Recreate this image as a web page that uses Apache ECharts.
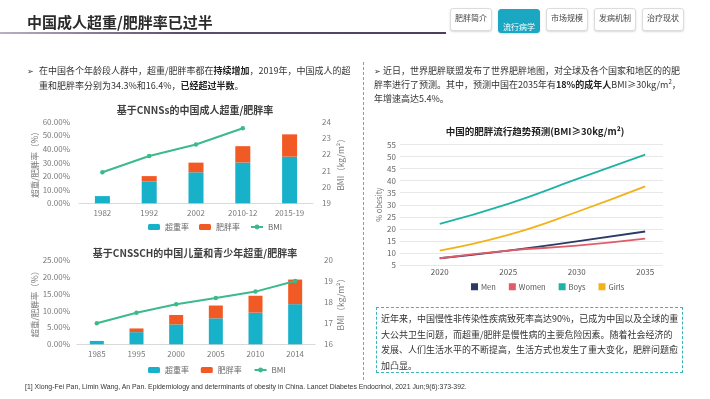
<!DOCTYPE html>
<html><head><meta charset="utf-8">
<script src="https://cdn.jsdelivr.net/npm/echarts@6/dist/echarts.min.js"></script>
<style>
html,body{margin:0;padding:0;background:#fff;}
#page{position:relative;width:710px;height:399px;overflow:hidden;font-family:"Noto Sans CJK SC","Noto Sans",sans-serif;color:#333;}
#chart{position:absolute;left:0;top:0;width:710px;height:399px;}
.abs{position:absolute;white-space:nowrap;}
.tab{position:absolute;top:8px;width:42px;height:23px;border:1px solid #dcdcdc;border-radius:3px;background:#fff;box-shadow:0 1px 2px rgba(0,0,0,0.15);font-size:8px;color:#444;text-align:center;line-height:18px;box-sizing:border-box;}
.tab.on{background:#1ba6c2;border-color:#1ba6c2;color:#fff;line-height:33px;top:9px;height:24px;}
b{font-weight:bold;color:#222;}
</style></head>
<body><div id="page">
<div id="chart"></div>
<div class="abs" style="left:27px;top:11px;font-size:15px;font-weight:bold;color:#2b2b2b;">中国成人超重/肥胖率已过半</div>
<div class="abs" style="left:0;top:32px;width:446px;height:2px;background:linear-gradient(90deg,#b9b0c3,#5d4e6e 40%,#4c3f5c);"></div>
<div class="tab" style="left:450px;">肥胖简介</div>
<div class="tab on" style="left:498px;">流行病学</div>
<div class="tab" style="left:546px;">市场规模</div>
<div class="tab" style="left:594px;">发病机制</div>
<div class="tab" style="left:642px;">治疗现状</div>
<div class="abs" style="left:363px;top:62px;height:318px;border-left:1px dashed #9a9a9a;"></div>
<div class="abs" style="left:27px;top:64px;font-size:9px;line-height:14.5px;">
<span style="position:absolute;left:0;top:0;font-size:8px;">➢</span>
<div style="padding-left:12px;">在中国各个年龄段人群中，超重/肥胖率都在<b>持续增加</b>，2019年，中国成人的超<br>重和肥胖率分别为34.3%和16.4%，<b>已经超过半数</b>。</div></div>
<div class="abs" style="left:374px;top:63.5px;font-size:9px;line-height:14.3px;">
<span style="font-size:8px;">➢</span> 近日，世界肥胖联盟发布了世界肥胖地图，对全球及各个国家和地区的的肥<br>胖率进行了预测。其中，预测中国在2035年有<b>18%的成年人</b>BMI≥30kg/m<sup style="font-size:6px;line-height:0;">2</sup>，<br>年增速高达5.4%。</div>
<div class="abs" style="left:376px;top:307px;width:307px;height:66px;border:1.5px dashed #3ab4b8;box-sizing:border-box;"></div>
<div class="abs" style="left:381px;top:311px;font-size:9px;line-height:15.5px;color:#333;">近年来，中国慢性非传染性疾病致死率高达90%，已成为中国以及全球的重<br>大公共卫生问题，而超重/肥胖是慢性病的主要危险因素。随着社会经济的<br>发展、人们生活水平的不断提高，生活方式也发生了重大变化，肥胖问题愈<br>加凸显。</div>
<div class="abs" style="left:25px;top:382.5px;font-size:6.9px;color:#333;font-family:'Liberation Sans',sans-serif;">[1] Xiong-Fei Pan, Limin Wang, An Pan. Epidemiology and determinants of obesity in China. Lancet Diabetes Endocrinol, 2021 Jun;9(6):373-392.</div>
</div>
<script>
// Chart 1: CNNS adults
const cats1 = ['1982','1992','2002','2010-12','2015-19'];
const over1 = [5.3, 16.0, 22.8, 30.0, 34.3];
const obese1 = [0, 4.0, 7.1, 12.0, 16.4];
const bmi1 = [20.9, 21.9, 22.6, 23.6, null];
// Chart 2: CNSSCH children
const cats2 = ['1985','1995','2000','2005','2010','2014'];
const over2 = [1.0, 3.6, 5.9, 7.7, 9.4, 11.9];
const obese2 = [0, 1.1, 2.8, 3.8, 5.0, 7.3];
const bmi2 = [17.0, 17.5, 17.9, 18.2, 18.5, 19.0];
// Chart 3: projection
const years3 = [2020, 2025, 2030, 2035];
const men3 = [7.8, 11.0, 14.8, 18.9];
const women3 = [7.8, 11.0, 13.0, 15.9];
const boys3 = [22.1, 30.4, 40.6, 50.8];
const girls3 = [11.0, 17.5, 27.0, 37.6];

const TEAL='#17b1c9', ORANGE='#f15a24', GREEN='#3cba8b';
const FONT='"Noto Sans CJK SC","Noto Sans",sans-serif';
const lab={color:'#7a7a7a',fontSize:8,fontFamily:FONT};
const pair=(xs,ys)=>xs.map((x,i)=>[x,ys[i]]);

const chart=echarts.init(document.getElementById('chart'),null,{renderer:'canvas'});
chart.setOption({
  animation:false,
  textStyle:{fontFamily:FONT},
  title:[
    {text:'基于CNNSs的中国成人超重/肥胖率',left:190,top:100,textAlign:'center',textStyle:{fontSize:10,fontWeight:'bold',color:'#404040'}},
    {text:'基于CNSSCH的中国儿童和青少年超重/肥胖率',left:190,top:243,textAlign:'center',textStyle:{fontSize:10,fontWeight:'bold',color:'#404040'}},
    {text:'中国的肥胖流行趋势预测(BMI≥30kg/m²)',left:530,top:122,textAlign:'center',textStyle:{fontSize:9.5,fontWeight:'bold',color:'#222'}}
  ],
  legend:[
    {left:143,top:218,itemWidth:12,itemHeight:6,itemGap:10,textStyle:{color:'#666',fontSize:8},data:['超重率','肥胖率','BMI']},
    {left:143,top:361,itemWidth:12,itemHeight:6,itemGap:10,textStyle:{color:'#666',fontSize:8},data:['超重率 ','肥胖率 ','BMI ']},
    {left:466,top:278,itemWidth:7,itemHeight:7,itemGap:13,icon:'rect',textStyle:{color:'#555',fontSize:7.5,padding:[0,0,0,-2]},data:['Men','Women','Boys','Girls']}
  ],
  grid:[
    {left:79,right:397,top:121.7,bottom:195.7,containLabel:false},
    {left:77,right:395,top:260,bottom:54.7,containLabel:false},
    {left:400,right:47,top:144.5,bottom:134,containLabel:false}
  ],
  xAxis:[
    {type:'category',gridIndex:0,data:cats1,axisLine:{lineStyle:{color:'#d9d9d9'}},axisTick:{show:false},axisLabel:Object.assign({margin:6},lab)},
    {type:'category',gridIndex:1,data:cats2,axisLine:{lineStyle:{color:'#d9d9d9'}},axisTick:{show:false},axisLabel:Object.assign({margin:6},lab)},
    {type:'value',gridIndex:2,min:2017.1,max:2036.3,axisLine:{show:false},axisTick:{show:false},splitLine:{show:false},
      axisLabel:Object.assign({},lab,{margin:3,color:'#555',customValues:years3,showMinLabel:true,showMaxLabel:true,hideOverlap:false,formatter:v=>String(Math.round(v))})}
  ],
  yAxis:[
    {type:'value',gridIndex:0,min:0,max:60,interval:10,splitLine:{show:false},axisLine:{show:false},axisTick:{show:false},
      axisLabel:Object.assign({formatter:v=>v.toFixed(2)+'%',margin:9},lab),
      name:'超重/肥胖率（%）',nameLocation:'middle',nameRotate:90,nameGap:39,nameTextStyle:{color:'#7a7a7a',fontSize:8.5}},
    {type:'value',gridIndex:0,min:19,max:24,interval:1,position:'right',splitLine:{show:false},axisLine:{show:false},axisTick:{show:false},
      axisLabel:Object.assign({margin:9},lab),
      name:'BMI（kg/m²）',nameLocation:'middle',nameRotate:90,nameGap:24,nameTextStyle:{color:'#7a7a7a',fontSize:8.5}},
    {type:'value',gridIndex:1,min:0,max:25,interval:5,splitLine:{show:false},axisLine:{show:false},axisTick:{show:false},
      axisLabel:Object.assign({formatter:v=>v.toFixed(2)+'%',margin:7},lab),
      name:'超重/肥胖率（%）',nameLocation:'middle',nameRotate:90,nameGap:37,nameTextStyle:{color:'#7a7a7a',fontSize:8.5}},
    {type:'value',gridIndex:1,min:16,max:20,interval:1,position:'right',splitLine:{show:false},axisLine:{show:false},axisTick:{show:false},
      axisLabel:Object.assign({margin:9},lab),
      name:'BMI（kg/m²）',nameLocation:'middle',nameRotate:90,nameGap:22,nameTextStyle:{color:'#7a7a7a',fontSize:8.5}},
    {type:'value',gridIndex:2,min:5,max:55,interval:5,axisLine:{show:false},axisTick:{show:false},
      splitLine:{lineStyle:{color:'#e8e8e8',width:1}},
      axisLabel:Object.assign({margin:4},lab,{color:'#666'}),
      name:'% obesity',nameLocation:'middle',nameRotate:90,nameGap:15,nameTextStyle:{color:'#777',fontSize:7.5}}
  ],
  series:[
    {name:'超重率',type:'bar',xAxisIndex:0,yAxisIndex:0,stack:'a',barWidth:15,itemStyle:{color:TEAL},data:over1},
    {name:'肥胖率',type:'bar',xAxisIndex:0,yAxisIndex:0,stack:'a',barWidth:15,itemStyle:{color:ORANGE},data:obese1},
    {name:'BMI',type:'line',xAxisIndex:0,yAxisIndex:1,symbol:'circle',symbolSize:4.5,lineStyle:{color:GREEN,width:2},itemStyle:{color:GREEN},data:bmi1},
    {name:'超重率 ',type:'bar',xAxisIndex:1,yAxisIndex:2,stack:'b',barWidth:14,itemStyle:{color:TEAL},data:over2},
    {name:'肥胖率 ',type:'bar',xAxisIndex:1,yAxisIndex:2,stack:'b',barWidth:14,itemStyle:{color:ORANGE},data:obese2},
    {name:'BMI ',type:'line',xAxisIndex:1,yAxisIndex:3,symbol:'circle',symbolSize:4.5,lineStyle:{color:GREEN,width:2},itemStyle:{color:GREEN},data:bmi2},
    {name:'Men',type:'line',xAxisIndex:2,yAxisIndex:4,smooth:true,showSymbol:false,lineStyle:{color:'#2c3a66',width:1.8},itemStyle:{color:'#2c3a66'},data:pair(years3,men3)},
    {name:'Women',type:'line',xAxisIndex:2,yAxisIndex:4,smooth:true,showSymbol:false,lineStyle:{color:'#e05c66',width:1.8},itemStyle:{color:'#e05c66'},data:pair(years3,women3)},
    {name:'Boys',type:'line',xAxisIndex:2,yAxisIndex:4,smooth:true,showSymbol:false,lineStyle:{color:'#1fb3a6',width:1.8},itemStyle:{color:'#1fb3a6'},data:pair(years3,boys3)},
    {name:'Girls',type:'line',xAxisIndex:2,yAxisIndex:4,smooth:true,showSymbol:false,lineStyle:{color:'#f2b21a',width:1.8},itemStyle:{color:'#f2b21a'},data:pair(years3,girls3)}
  ]
});
</script>
</body></html>
